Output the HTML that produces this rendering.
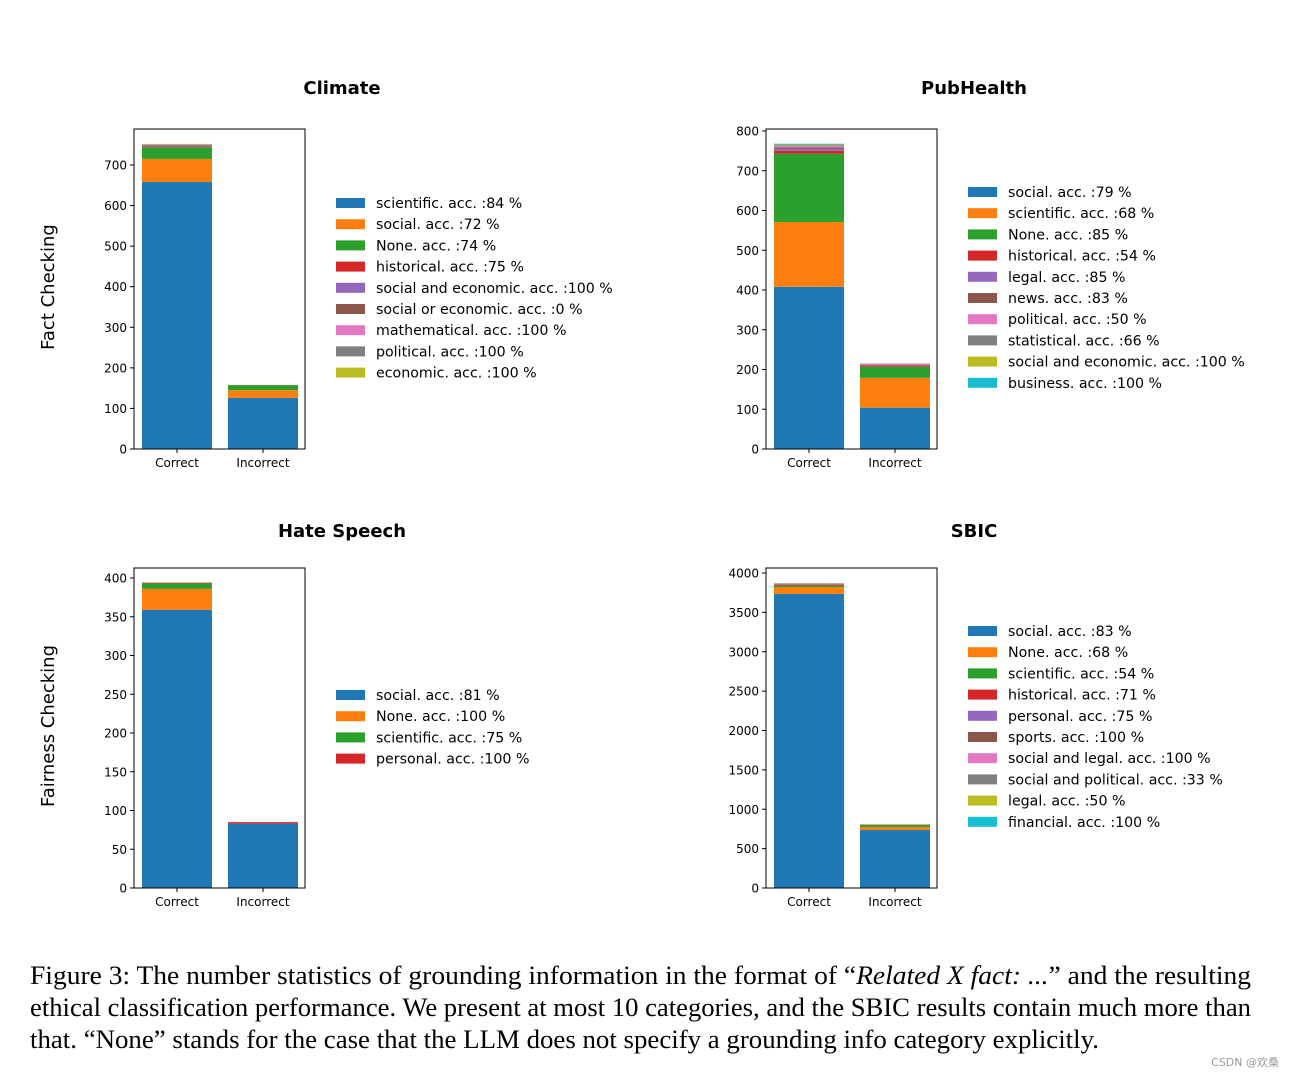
<!DOCTYPE html>
<html><head><meta charset="utf-8">
<style>
html,body{margin:0;padding:0;background:#fff;}
svg{display:block;}
text{font-family:"DejaVu Sans","Liberation Sans",sans-serif;}
.cap{font-family:"Liberation Serif",serif;font-size:26px;fill:#000;}
</style></head>
<body>
<svg id="fig" width="1295" height="1077" viewBox="0 0 1295 1077" xmlns="http://www.w3.org/2000/svg">
<text x="54" y="287" transform="rotate(-90 54 287)" text-anchor="middle" font-size="18">Fact Checking</text>
<text x="54" y="726" transform="rotate(-90 54 726)" text-anchor="middle" font-size="18">Fairness Checking</text>
<text class="cap" x="30" y="984" textLength="1221" lengthAdjust="spacingAndGlyphs">Figure 3: The number statistics of grounding information in the format of “<tspan font-style="italic">Related X fact: ...</tspan>” and the resulting</text>
<text class="cap" x="30" y="1016" textLength="1221" lengthAdjust="spacingAndGlyphs">ethical classification performance. We present at most 10 categories, and the SBIC results contain much more than</text>
<text class="cap" x="30" y="1048" textLength="1069" lengthAdjust="spacingAndGlyphs">that. “None” stands for the case that the LLM does not specify a grounding info category explicitly.</text>
<text x="1279" y="1066" text-anchor="end" font-size="11" fill="#999" font-family="'Liberation Sans','Noto Sans CJK SC',sans-serif">CSDN @欢桑</text>
</svg>
<script>
const colors=["#1f77b4","#ff7f0e","#2ca02c","#d62728","#9467bd","#8c564b","#e377c2","#7f7f7f","#bcbd22","#17becf"];
const categories=["Correct","Incorrect"];
// Climate
const climateLabels=["scientific. acc. :84 %","social. acc. :72 %","None. acc. :74 %","historical. acc. :75 %","social and economic. acc. :100 %","social or economic. acc. :0 %","mathematical. acc. :100 %","political. acc. :100 %","economic. acc. :100 %"];
const climateCorrect=[658,57,29,2,2,1,1,1,1];
const climateIncorrect=[126,19,12,0,0,1,0,0,0];
const climateTicks=[0,100,200,300,400,500,600,700];
// PubHealth
const pubLabels=["social. acc. :79 %","scientific. acc. :68 %","None. acc. :85 %","historical. acc. :54 %","legal. acc. :85 %","news. acc. :83 %","political. acc. :50 %","statistical. acc. :66 %","social and economic. acc. :100 %","business. acc. :100 %"];
const pubCorrect=[408,163,172,7,6,3,3,2,2,2];
const pubIncorrect=[104,75,28,3,1,1,2,1,0,0];
const pubTicks=[0,100,200,300,400,500,600,700,800];
// Hate Speech
const hateLabels=["social. acc. :81 %","None. acc. :100 %","scientific. acc. :75 %","personal. acc. :100 %"];
const hateCorrect=[359,27,7,1];
const hateIncorrect=[83,0,0,2];
const hateTicks=[0,50,100,150,200,250,300,350,400];
// SBIC
const sbicLabels=["social. acc. :83 %","None. acc. :68 %","scientific. acc. :54 %","historical. acc. :71 %","personal. acc. :75 %","sports. acc. :100 %","social and legal. acc. :100 %","social and political. acc. :33 %","legal. acc. :50 %","financial. acc. :100 %"];
const sbicCorrect=[3733,89,20,10,6,5,4,3,2,1];
const sbicIncorrect=[736,38,25,4,2,1,1,1,1,1];
const sbicTicks=[0,500,1000,1500,2000,2500,3000,3500,4000];

const NS="http://www.w3.org/2000/svg";
const svg=document.getElementById('fig');
function mk(tag,attrs,parent){const e=document.createElementNS(NS,tag);for(const k in attrs)e.setAttribute(k,attrs[k]);(parent||svg).appendChild(e);return e;}

function panel(key,title,titleX,titleY,x0,y0,yMax,ticks,labels,correct,incorrect,legX,legY){
  const w=171,h=320,x1=x0+w,yb=y0+h;
  const g=mk('g',{});
  
  
  const yScale=v=>yb-(v/yMax)*h;
  const t=mk('text',{x:titleX,y:titleY,'text-anchor':'middle','font-size':18,'font-weight':'bold','font-family':'Liberation Sans, sans-serif'},g);
  t.textContent=title;
  
  
  const barX=[x0+8,x0+94];
  [correct,incorrect].forEach((vals,bi)=>{
    let acc=0;
    vals.forEach((v,i)=>{
      if(v<=0)return;
      const yA=yScale(acc),yB=yScale(acc+v);acc+=v;
      const r=mk('rect',{x:barX[bi],y:yB,width:70,height:yA-yB,fill:colors[i]},g);
      
      
    });
    const lt=mk('text',{x:barX[bi]+35,y:yb+18,'text-anchor':'middle','font-size':12},g);
    lt.textContent=categories[bi];
    
    
    mk('line',{x1:barX[bi]+35,x2:barX[bi]+35,y1:yb,y2:yb+4,stroke:'#000'},g);
  });
  ticks.forEach(v=>{
    const y=yScale(v);
    mk('line',{x1:x0-4,x2:x0,y1:y,y2:y,stroke:'#000'},g);
    const tt=mk('text',{x:x0-7,y:y+4.5,'text-anchor':'end','font-size':12},g);
    tt.textContent=v;
    
    
  });
  const fr=mk('rect',{x:x0,y:y0,width:w,height:h,fill:'none',stroke:'#000','stroke-width':1},g);
  
  
  labels.forEach((lab,i)=>{
    const y=legY+i*21.2;
    const s=mk('rect',{x:legX,y:y-5,width:29,height:10,fill:colors[i]},g);
    
    
    const lt=mk('text',{x:legX+40,y:y+5,'font-size':14.2},g);
    lt.textContent=lab;
    
    
  });
}
panel('climate','Climate',342,94,134,129,700*320/284,climateTicks,climateLabels,climateCorrect,climateIncorrect,336,203);
panel('pubhealth','PubHealth',974,94,766,129,800*320/318,pubTicks,pubLabels,pubCorrect,pubIncorrect,968,192);
panel('hate-speech','Hate Speech',342,537,134,568,400*320/310,hateTicks,hateLabels,hateCorrect,hateIncorrect,336,695);
panel('sbic','SBIC',974,537,766,568,4000*320/315,sbicTicks,sbicLabels,sbicCorrect,sbicIncorrect,968,631);
</script>
</body></html>
